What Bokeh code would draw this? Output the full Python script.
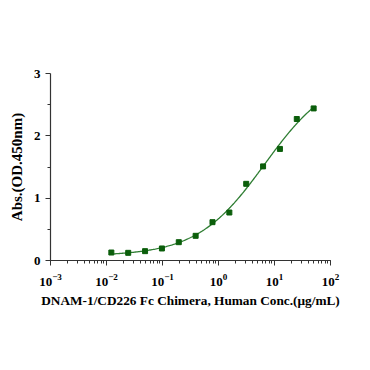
import numpy as np
from bokeh.plotting import figure
from bokeh.models import Range1d, LogTicker, FixedTicker
from bokeh.embed import file_html
from bokeh.resources import INLINE

conc = [50, 25, 12.5, 6.25, 3.125, 1.5625, 0.78125, 0.390625, 0.1953125,
        0.09765625, 0.048828125, 0.0244140625, 0.01220703125]
absorb = [2.44, 2.27, 1.79, 1.51, 1.23, 0.77, 0.615, 0.396, 0.294,
          0.193, 0.15, 0.123, 0.128]

x = np.array(conc, dtype=float)
y = np.array(absorb, dtype=float)

# 4PL fit: grid over log EC50 and hill, linear least squares for bottom/top
best = None
for lec in np.linspace(-1, 2.5, 141):
    ec = 10 ** lec
    for h in np.linspace(0.4, 2.0, 81):
        f = (x / ec) ** h / (1 + (x / ec) ** h)
        A = np.vstack([1 - f, f]).T
        coef, *_ = np.linalg.lstsq(A, y, rcond=None)
        r = np.sum((A @ coef - y) ** 2)
        if best is None or r < best[0]:
            best = (r, ec, h, coef)
_, ec, h, (bot, top) = best
xf = np.logspace(np.log10(x.min()), np.log10(x.max()), 200)
ff = (xf / ec) ** h / (1 + (xf / ec) ** h)
yf = bot + (top - bot) * ff

p = figure(width=354, height=354, x_axis_type="log", output_backend="svg",
           toolbar_location=None, x_range=Range1d(1e-3, 1e2), y_range=Range1d(0, 3),
           min_border_left=50, min_border_right=24, min_border_top=73, min_border_bottom=94)
p.outline_line_color = None
p.grid.visible = False
p.background_fill_color = "white"
p.border_fill_color = "white"

p.line(xf, yf, line_color="#2e7d32", line_width=1.3)
p.scatter(x, y, marker="square", size=5, fill_color="#0b5e0b", line_color="#0b5e0b")

font = "Liberation Serif"
for ax in (p.xaxis[0], p.yaxis[0]):
    ax.axis_line_color = "#333333"
    ax.axis_line_width = 1.2
    ax.major_tick_line_color = "#333333"
    ax.minor_tick_line_color = "#333333"
    ax.major_tick_in = 0
    ax.major_tick_out = 5
    ax.minor_tick_in = 0
    ax.minor_tick_out = 3
    ax.major_label_text_font = font
    ax.major_label_text_font_style = "bold"
    ax.major_label_text_font_size = "13px"
    ax.major_label_text_color = "black"
    ax.axis_label_text_font = font
    ax.axis_label_text_font_style = "bold"
    ax.axis_label_text_color = "black"

p.xaxis.ticker = LogTicker(num_minor_ticks=10)
p.xaxis.major_label_standoff = 8
p.yaxis.ticker = FixedTicker(ticks=[0, 1, 2, 3], minor_ticks=[0.5, 1.5, 2.5])
p.xaxis.axis_label = "DNAM-1/CD226 Fc Chimera, Human Conc.(μg/mL)"
p.xaxis.axis_label_text_font_size = "13.3px"
p.xaxis.axis_label_standoff = 4
p.yaxis.axis_label = "Abs.(OD.450nm)"
p.yaxis.axis_label_text_font_size = "15px"
p.yaxis.axis_label_standoff = 6

open("out.html", "w").write(file_html(p, INLINE))
